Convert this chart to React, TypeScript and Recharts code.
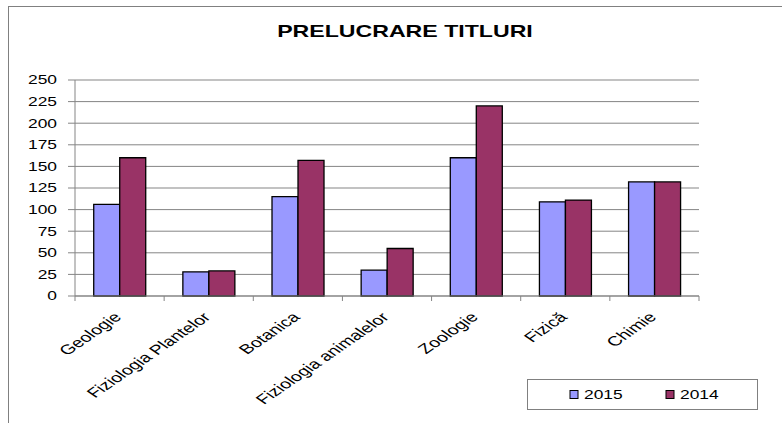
import React from 'react';
import { BarChart, Bar, XAxis, YAxis, CartesianGrid, Legend } from 'recharts';

const categories = ['Geologie', 'Fiziologia Plantelor', 'Botanica', 'Fiziologia animalelor', 'Zoologie', 'Fizică', 'Chimie'];
const values2015 = [106, 28, 115, 30, 160, 109, 132];
const values2014 = [160, 29, 157, 55, 220, 111, 132];
const yTicks = [0, 25, 50, 75, 100, 125, 150, 175, 200, 225, 250];
const seriesNames = ['2015', '2014'];
const seriesColors = ['#9999FF', '#993366'];

const data = categories.map((c, i) => ({ name: c, s2015: values2015[i], s2014: values2014[i] }));

const FONT = '"Liberation Sans", Arial, sans-serif';
const STRETCH = 1.45;
const LINE = '#858585';

const ANG = (45 * Math.PI) / 180;
const LS = 1.45;
const MA = LS * Math.cos(ANG);
const MB = -Math.sin(ANG);
const MC = LS * Math.sin(ANG);
const MD = Math.cos(ANG);

const YTick = (props: any) => {
  const { x, y, payload } = props;
  return (
    <text
      transform={`translate(${x},${y}) scale(${STRETCH},1)`}
      textAnchor="end"
      dy="0.36em"
      fontFamily={FONT}
      fontSize={12}
      fill="#000"
    >
      {payload.value}
    </text>
  );
};

const XTick = (props: any) => {
  const { x, y, payload, index } = props;
  const off = payload && typeof payload.offset === 'number' && payload.offset > 0 ? payload.offset : 44.6;
  const n = categories.length;
  return (
    <g>
      <line x1={x - off} x2={x - off} y1={y} y2={y + 5} stroke={LINE} strokeWidth={1} />
      {index === n - 1 && <line x1={x + off} x2={x + off} y1={y} y2={y + 5} stroke={LINE} strokeWidth={1} />}
      <text
        transform={`matrix(${MA},${MB},${MC},${MD},${x + 3},${y + 22})`}
        textAnchor="end"
        fontFamily={FONT}
        fontSize={13.5}
        fill="#000"
      >
        {payload.value}
      </text>
    </g>
  );
};

const LegendBox = () => (
  <svg width={232} height={32} style={{ display: 'block' }}>
    <rect x={0.5} y={0.5} width={230} height={30} fill="#fff" stroke="#808080" strokeWidth={1} />
    {seriesNames.map((s, i) => {
      const bx = i === 0 ? 43 : 139;
      return (
        <g key={s}>
          <rect x={bx} y={11.5} width={8} height={8} fill={seriesColors[i]} stroke="#000" strokeWidth={1} />
          <text
            transform={`translate(${bx + 14},${16}) scale(${STRETCH},1)`}
            dy="0.36em"
            fontFamily={FONT}
            fontSize={12}
            fill="#000"
          >
            {s}
          </text>
        </g>
      );
    })}
  </svg>
);

export default function App() {
  return (
    <div style={{ position: 'absolute', left: 0, top: 0, width: 782, height: 423, overflow: 'hidden', background: '#fff' }}>
      <div style={{ position: 'absolute', left: 8, top: 6, width: 900, height: 600, borderLeft: '1px solid #808080', borderTop: '1px solid #808080' }} />
      <div
        style={{
          position: 'absolute',
          left: 0,
          top: 22,
          width: 809,
          textAlign: 'center',
          fontFamily: FONT,
          fontWeight: 'bold',
          fontSize: 17,
          lineHeight: '20px',
          color: '#000',
        }}
      >
        <span style={{ display: 'inline-block', transform: 'scaleX(1.36)' }}>PRELUCRARE TITLURI</span>
      </div>
      <div style={{ position: 'absolute', left: 0, top: 0 }}>
        <BarChart
          width={782}
          height={423}
          data={data}
          margin={{ top: 80, right: 83, left: 15, bottom: 0 }}
          barCategoryGap="21%"
          barGap={0}
        >
          <CartesianGrid vertical={false} stroke={LINE} strokeWidth={1} />
          <XAxis
            dataKey="name"
            interval={0}
            height={127}
            tickLine={false}
            tickSize={0}
            tickMargin={0}
            axisLine={{ stroke: LINE, strokeWidth: 1 }}
            tick={<XTick />}
          />
          <YAxis
            width={60}
            domain={[0, 250]}
            ticks={yTicks}
            interval={0}
            tickSize={7}
            tickMargin={11}
            tickLine={{ stroke: LINE, strokeWidth: 1 }}
            axisLine={{ stroke: LINE, strokeWidth: 1 }}
            tick={<YTick />}
          />
          <Legend
            layout="vertical"
            align="center"
            verticalAlign="middle"
            content={() => <LegendBox />}
            wrapperStyle={{ left: 527, top: 379, width: 232, height: 32, right: 'auto', bottom: 'auto' }}
          />
          <Bar dataKey="s2015" name={seriesNames[0]} fill={seriesColors[0]} stroke="#000" strokeWidth={1.3} isAnimationActive={false} />
          <Bar dataKey="s2014" name={seriesNames[1]} fill={seriesColors[1]} stroke="#000" strokeWidth={1.3} isAnimationActive={false} />
        </BarChart>
      </div>
    </div>
  );
}
